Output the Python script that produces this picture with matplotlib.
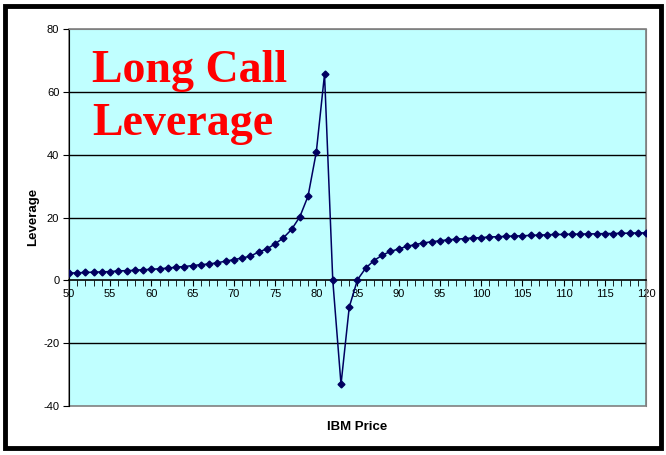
import numpy as np
import matplotlib.pyplot as plt
from matplotlib.patches import Rectangle
from matplotlib.ticker import MultipleLocator

# IBM price and the leverage
price = list(range(50, 121))
leverage = [
    2.3, 2.4, 2.5, 2.6, 2.7, 2.8, 3.0, 3.1, 3.2, 3.4,   # 50-59
    3.5, 3.7, 3.9, 4.2, 4.4, 4.7, 5.0, 5.2, 5.6, 6.1,   # 60-69
    6.6, 7.1, 7.7, 9.0, 10.0, 11.6, 13.5, 16.2, 20.2, 26.8,   # 70-79
    40.8, 65.6, 0.0, -33.1, -8.5, 0.2, 3.9, 6.3, 8.0, 9.2,   # 80-89
    10.0, 10.8, 11.4, 11.9, 12.3, 12.6, 12.9, 13.1, 13.3, 13.5,   # 90-99
    13.6, 13.8, 13.9, 14.0, 14.1, 14.2, 14.3, 14.4, 14.5, 14.6,   # 100-109
    14.6, 14.7, 14.7, 14.8, 14.8, 14.9, 14.9, 15.0, 15.0, 15.1,   # 110-119
    15.1,   # 120
]
y_ticks = [-40, -20, 0, 20, 40, 60, 80]
x_ticks = list(range(50, 121, 5))
title_lines = ["Long Call", "Leverage"]

plt.rcParams["font.family"] = ["Liberation Sans", "DejaVu Sans"]
plt.rcParams["axes.unicode_minus"] = False

fig = plt.figure(figsize=(6.66, 4.55), dpi=100)
# black frame around the whole chart
fig.patches.append(Rectangle((5 / 666, 7 / 455), 656 / 666, 442 / 455,
                             transform=fig.transFigure, fill=False,
                             edgecolor="black", linewidth=3.5))

ax = fig.add_axes([69 / 666, 1 - 406 / 455, 577 / 666, 377 / 455])
ax.set_facecolor("#c0ffff")
ax.set_xlim(50, 120)
ax.set_ylim(-40, 80)

# gray border of the plot area (bottom spine is moved to y=0)
ax.add_patch(Rectangle((0, 0), 1, 1, transform=ax.transAxes, fill=False,
                       edgecolor="#808080", linewidth=1.2, zorder=0.5,
                       clip_on=False))

for y in y_ticks[1:-1]:
    if y != 0:
        ax.axhline(y, color="black", linewidth=1, zorder=1)

ax.plot(price, leverage, color="#000060", linewidth=1.1, marker="D",
        markersize=3.5, zorder=3)

# x axis sits on the zero line
ax.spines["bottom"].set_position(("data", 0))
ax.spines["bottom"].set_linewidth(1.2)
ax.spines["left"].set_color("black")
ax.spines["top"].set_color("#808080")
ax.spines["right"].set_color("#808080")
ax.xaxis.set_minor_locator(MultipleLocator(1))
ax.set_xticks(x_ticks)
ax.set_yticks(y_ticks)
ax.tick_params(axis="x", which="both", direction="out", length=4, labelsize=8,
               pad=2, colors="black")
ax.tick_params(axis="y", direction="out", length=4, labelsize=8, pad=3)

for line, base in zip(title_lines, [82, 135]):
    fig.text(92 / 666, 1 - base / 455, line, color="red", fontsize=33,
             fontweight="bold", family="Liberation Serif",
             ha="left", va="baseline")

fig.text(357 / 666, 1 - 427 / 455, "IBM Price", ha="center", va="center",
         fontsize=9.5, fontweight="bold")
fig.text(33 / 666, 1 - 217 / 455, "Leverage", ha="center", va="center",
         rotation=90, fontsize=9.5, fontweight="bold")

fig.savefig("out.png", dpi=100)
